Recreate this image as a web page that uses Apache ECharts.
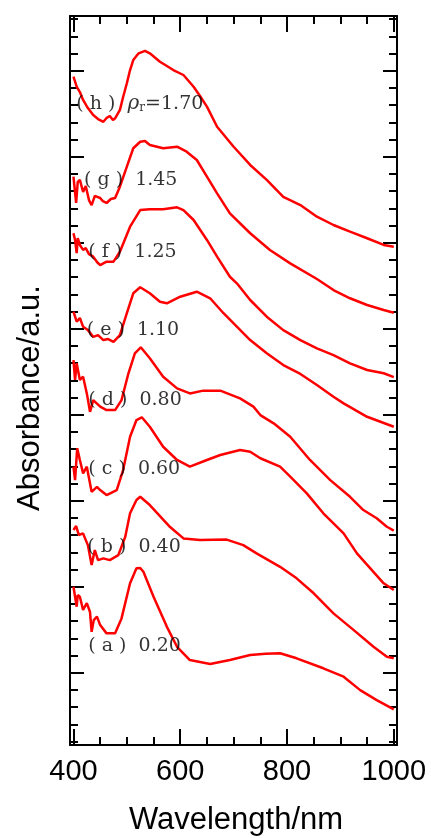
<!DOCTYPE html>
<html>
<head>
<meta charset="utf-8">
<script src="https://cdn.jsdelivr.net/npm/echarts@6/dist/echarts.min.js"></script>
<style>
  html, body { margin: 0; padding: 0; background: #fff; }
  #main { width: 431px; height: 838px; }
</style>
</head>
<body>
<div id="main"></div>
<script>
// spectra, [wavelength nm, absorbance (offset)]
const curveA = [[400,0.500],[406,0.384],[408,0.452],[412,0.442],[418,0.365],[425,0.405],[431,0.353],[434,0.238],[438,0.306],[444,0.326],[450,0.277],[462,0.229],[478,0.229],[490,0.316],[506,0.520],[518,0.607],[525,0.609],[531,0.587],[550,0.442],[575,0.267],[594,0.151],[618,0.074],[656,0.051],[693,0.074],[731,0.103],[760,0.110],[787,0.113],[818,0.084],[868,0.026],[906,-0.023],[937,-0.101],[968,-0.159],[1000,-0.213]]
const curveB = [[400,0.830],[405,0.853],[410,0.801],[418,0.810],[427,0.742],[434,0.626],[440,0.713],[446,0.655],[456,0.665],[468,0.655],[484,0.684],[497,0.791],[506,0.927],[518,1.004],[525,1.023],[543,0.975],[562,0.911],[581,0.847],[606,0.781],[637,0.772],[687,0.774],[718,0.742],[743,0.694],[787,0.616],[818,0.549],[850,0.462],[887,0.345],[925,0.248],[962,0.151],[987,0.093],[1000,0.084]]
const curveC = [[400,1.198],[403,1.120],[407,1.305],[412,1.237],[418,1.159],[425,1.198],[434,1.052],[444,1.081],[450,1.062],[462,1.033],[481,1.062],[493,1.178],[506,1.372],[518,1.469],[528,1.485],[543,1.430],[568,1.314],[594,1.237],[618,1.198],[650,1.237],[675,1.266],[712,1.295],[731,1.285],[750,1.247],[787,1.198],[806,1.140],[837,1.043],[868,0.927],[906,0.810],[931,0.694],[956,0.607],[981,0.520],[1000,0.481]]
const curveD = [[400,1.818],[403,1.702],[406,1.799],[412,1.702],[418,1.721],[425,1.624],[431,1.517],[437,1.585],[450,1.547],[462,1.527],[478,1.527],[490,1.585],[503,1.741],[515,1.857],[526,1.892],[543,1.828],[568,1.721],[594,1.653],[618,1.624],[643,1.640],[675,1.640],[712,1.595],[737,1.547],[750,1.498],[775,1.450],[806,1.372],[843,1.237],[881,1.120],[918,1.023],[943,0.946],[968,0.898],[987,0.849],[1000,0.826]]
const curveE = [[400,2.099],[406,2.041],[412,2.062],[418,2.012],[427,1.992],[437,1.953],[446,1.963],[456,1.934],[465,1.940],[475,1.924],[487,1.963],[500,2.090],[512,2.206],[525,2.241],[543,2.206],[562,2.157],[575,2.148],[600,2.186],[631,2.215],[656,2.177],[681,2.090],[706,2.012],[731,1.934],[762,1.857],[793,1.789],[825,1.737],[856,1.673],[887,1.605],[906,1.566],[950,1.488],[975,1.459],[1000,1.430]]
const curveF = [[400,2.555],[403,2.516],[406,2.440],[408,2.527],[412,2.487],[418,2.458],[423,2.469],[429,2.434],[437,2.419],[444,2.388],[450,2.370],[462,2.390],[475,2.390],[487,2.448],[506,2.593],[525,2.690],[543,2.694],[568,2.694],[594,2.706],[606,2.690],[625,2.632],[650,2.516],[669,2.419],[693,2.302],[706,2.264],[731,2.167],[762,2.070],[793,1.992],[825,1.934],[856,1.886],[887,1.847],[918,1.799],[950,1.760],[981,1.741],[1000,1.719]]
const curveG = [[400,2.884],[405,2.731],[408,2.853],[412,2.865],[418,2.795],[423,2.830],[429,2.748],[434,2.719],[440,2.772],[450,2.760],[455,2.742],[462,2.731],[470,2.754],[478,2.760],[487,2.826],[500,2.942],[512,3.049],[525,3.087],[534,3.091],[543,3.068],[568,3.049],[594,3.058],[612,3.029],[631,2.981],[650,2.884],[669,2.787],[693,2.671],[731,2.555],[768,2.458],[806,2.380],[856,2.289],[887,2.225],[918,2.177],[950,2.138],[981,2.109],[1000,2.093]]
const curveH = [[400,3.465],[406,3.407],[412,3.376],[418,3.330],[427,3.283],[437,3.242],[446,3.219],[456,3.203],[462,3.225],[468,3.237],[474,3.213],[478,3.223],[487,3.272],[493,3.347],[500,3.427],[506,3.504],[512,3.562],[522,3.601],[534,3.615],[543,3.601],[562,3.552],[575,3.527],[587,3.504],[606,3.475],[625,3.407],[637,3.353],[650,3.291],[669,3.174],[700,3.058],[731,2.952],[762,2.865],[793,2.767],[825,2.719],[856,2.651],[887,2.603],[918,2.564],[950,2.526],[981,2.487],[1000,2.477]]

const curves = [curveA, curveB, curveC, curveD, curveE, curveF, curveG, curveH]

// curve captions and where they start (nm, absorbance)
const labelTexts = ['( a )  0.20', '( b )  0.40', '( c )  0.60', '( d )  0.80', '( e )  1.10', '( f )  1.25', '( g )  1.45', '{p|( h )  }{i|ρ}{s|r}{p|=1.70}']
const labelPos = [[426.8,0.155],[425,0.731],[426.8,1.187],[426.8,1.588],[423.8,1.992],[426.8,2.446],[418.8,2.862],[404.5,3.306]]

const xMajorTicks = [400, 600, 800, 1000]
const xMinorTicks = [400, 450, 500, 550, 600, 650, 700, 750, 800, 850, 900, 950, 1000]
const yMajorTicks = [0, 0.5, 1, 1.5, 2, 2.5, 3, 3.5]
const yMinorTicks = [-0.4, -0.3, -0.2, -0.1, 0, 0.1, 0.2, 0.3, 0.4, 0.5, 0.6, 0.7, 0.8, 0.9, 1, 1.1, 1.2, 1.3, 1.4, 1.5, 1.6, 1.7, 1.8, 1.9, 2, 2.1, 2.2, 2.3, 2.4, 2.5, 2.6, 2.7, 2.8, 2.9, 3, 3.1, 3.2, 3.3, 3.4, 3.5, 3.6, 3.7, 3.8]

const X_MIN = 393.5, X_MAX = 1006
const Y_MIN = -0.42, Y_MAX = 3.818

const serif = '"DejaVu Serif"'
const sans = '"Liberation Sans", Arial'

function xAx(position, ticks, len, withLine, withLabel) {
  return {
    type: 'value', position: position, min: X_MIN, max: X_MAX,
    axisLine: { show: withLine, onZero: false, lineStyle: { color: '#000', width: 2 } },
    axisTick: { show: true, inside: true, length: len, customValues: ticks, lineStyle: { color: '#000', width: 2 } },
    axisLabel: withLabel
      ? { show: true, customValues: xMajorTicks, formatter: v => String(v), color: '#000', fontSize: 29, fontFamily: sans, margin: 12 }
      : { show: false },
    splitLine: { show: false }
  }
}
function yAx(position, ticks, len, withLine) {
  return {
    type: 'value', position: position, min: Y_MIN, max: Y_MAX,
    axisLine: { show: withLine, onZero: false, lineStyle: { color: '#000', width: 2 } },
    axisTick: { show: true, inside: true, length: len, customValues: ticks, lineStyle: { color: '#000', width: 2 } },
    axisLabel: { show: false },
    splitLine: { show: false }
  }
}

const chart = echarts.init(document.getElementById('main'), null, { renderer: 'canvas' })

const lineSeries = curves.map(c => ({
  type: 'line', data: c, xAxisIndex: 0, yAxisIndex: 0,
  symbol: 'none', animation: false,
  lineStyle: { color: '#ff0000', width: 2.5 }
}))

const labelSeries = {
  type: 'scatter', xAxisIndex: 0, yAxisIndex: 0, z: 5,
  symbolSize: 1, itemStyle: { color: 'rgba(0,0,0,0)' }, animation: false, silent: true,
  data: labelPos.map((p, i) => ({ value: p, label: { formatter: labelTexts[i] } })),
  label: {
    show: true, position: 'right', distance: 0,
    color: '#000', fontSize: 19, fontFamily: serif,
    rich: {
      p: { fontSize: 19, fontFamily: serif, color: '#000' },
      i: { fontSize: 20, fontFamily: serif, fontStyle: 'italic', color: '#000' },
      s: { fontSize: 12, fontFamily: serif, color: '#000', verticalAlign: 'bottom', padding: [7, 0, 0, 0] }
    }
  }
}

chart.setOption({
  backgroundColor: '#fff',
  animation: false,
  grid: { left: 70, top: 16, width: 327, height: 729, outerBoundsMode: 'none' },
  xAxis: [
    xAx('bottom', xMajorTicks, 16, true, true),
    xAx('bottom', xMinorTicks, 8, false, false),
    xAx('top', xMajorTicks, 16, true, false),
    xAx('top', xMinorTicks, 8, false, false)
  ],
  yAxis: [
    yAx('left', yMajorTicks, 14, true),
    yAx('left', yMinorTicks, 8, false),
    yAx('right', yMajorTicks, 14, true),
    yAx('right', yMinorTicks, 8, false)
  ],
  graphic: [
    {
      type: 'text', x: 236, y: 820,
      style: { text: 'Wavelength/nm', fill: '#000', font: '31px ' + sans, align: 'center', verticalAlign: 'middle' }
    },
    {
      type: 'text', x: 30, y: 398, rotation: Math.PI / 2,
      style: { text: 'Absorbance/a.u.', fill: '#000', font: '31px ' + sans, align: 'center', verticalAlign: 'middle' }
    }
  ],
  series: lineSeries.concat([labelSeries])
})
</script>
</body>
</html>
